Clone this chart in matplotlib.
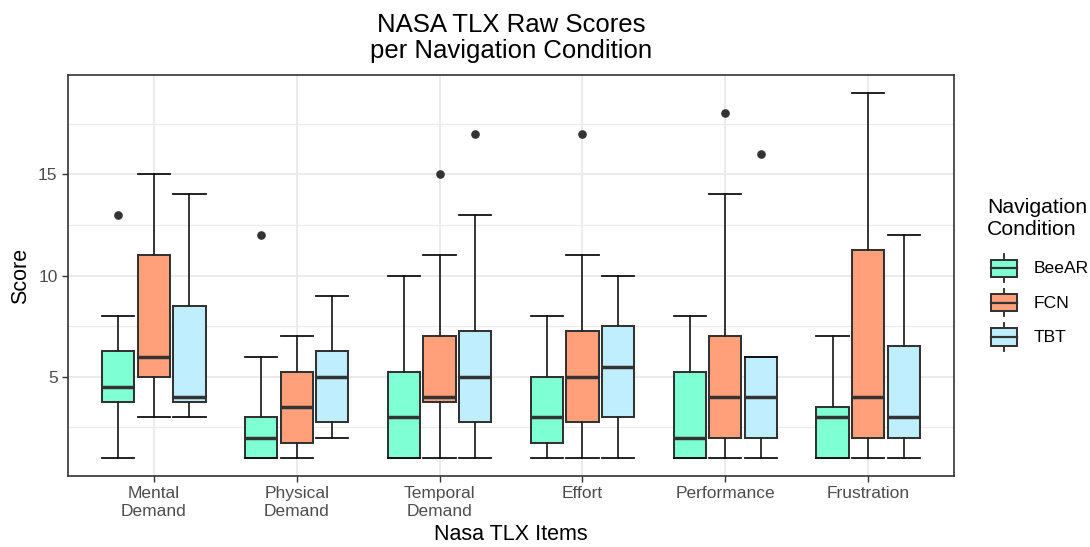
import matplotlib
matplotlib.use("Agg")
import matplotlib.pyplot as plt
from matplotlib.legend_handler import HandlerBase
from matplotlib.patches import Patch, Rectangle
from matplotlib.lines import Line2D

plt.rcParams["font.family"] = ["Liberation Sans", "DejaVu Sans"]

items = ["Mental\nDemand", "Physical\nDemand", "Temporal\nDemand",
         "Effort", "Performance", "Frustration"]
conditions = ["BeeAR", "FCN", "TBT"]
colors = ["#7FFFD4", "#FFA07A", "#BFEFFF"]

# five-number summaries per item: (whisker low, q1, median, q3, whisker high)
beear_stats = [(1, 3.75, 4.5, 6.25, 8), (1, 1, 2, 3, 6), (1, 1, 3, 5.25, 10),
               (1, 1.75, 3, 5, 8), (1, 1, 2, 5.25, 8), (1, 1, 3, 3.5, 7)]
fcn_stats = [(3, 5, 6, 11, 15), (1, 1.75, 3.5, 5.25, 7), (1, 3.75, 4, 7, 11),
             (1, 2.75, 5, 7.25, 11), (1, 2, 4, 7, 14), (1, 2, 4, 11.25, 19)]
tbt_stats = [(3, 3.75, 4, 8.5, 14), (2, 2.75, 5, 6.25, 9), (1, 2.75, 5, 7.25, 13),
             (1, 3, 5.5, 7.5, 10), (1, 2, 4, 6, 6), (1, 2, 3, 6.5, 12)]

beear_outliers = [[13], [12], [], [], [], []]
fcn_outliers = [[], [], [15], [17], [18], []]
tbt_outliers = [[], [], [17], [], [16], []]

all_stats = [beear_stats, fcn_stats, tbt_stats]
all_outliers = [beear_outliers, fcn_outliers, tbt_outliers]

edge = "#333333"
dodge = 0.25
box_w = 0.225

fig = plt.figure(figsize=(10.9, 5.47), dpi=100)
ax = fig.add_axes([68 / 1090, 71 / 547, 886 / 1090, 401 / 547])

for k, (stats, outl) in enumerate(zip(all_stats, all_outliers)):
    bxp_stats = []
    for s, o in zip(stats, outl):
        lo, q1, med, q3, hi = s
        bxp_stats.append(dict(whislo=lo, q1=q1, med=med, q3=q3, whishi=hi, fliers=o))
    pos = [i + 1 + (k - 1) * dodge for i in range(len(items))]
    ax.bxp(bxp_stats, positions=pos, widths=box_w, capwidths=box_w,
           patch_artist=True, manage_ticks=False,
           boxprops=dict(facecolor=colors[k], edgecolor=edge, linewidth=1.45),
           medianprops=dict(color=edge, linewidth=2.5, solid_capstyle="butt"),
           whiskerprops=dict(color="#262626", linewidth=1.3),
           capprops=dict(color="#111111", linewidth=1.3),
           flierprops=dict(marker="o", markerfacecolor=edge, markeredgecolor=edge,
                           markersize=5.2, linestyle="none"),
           zorder=3)

ax.set_xlim(0.4, 6.6)
ax.set_ylim(0.1, 19.9)
ax.set_xticks(range(1, len(items) + 1))
ax.set_xticklabels(items, fontsize=12.5, color="#4D4D4D", linespacing=1.18)
ax.set_yticks([5, 10, 15])
ax.set_yticks([2.5, 7.5, 12.5, 17.5], minor=True)
ax.tick_params(axis="y", which="minor", length=0)
ax.tick_params(axis="both", which="major", length=4, width=1, color=edge,
               labelsize=12.5, labelcolor="#4D4D4D", pad=3.5)
ax.grid(True, which="major", color="#EBEBEB", linewidth=1.4, zorder=0)
ax.grid(True, which="minor", axis="y", color="#EBEBEB", linewidth=0.8, zorder=0)
ax.set_axisbelow(True)
for sp in ax.spines.values():
    sp.set_color(edge)
    sp.set_linewidth(1.2)

ax.set_xlabel("Nasa TLX Items", fontsize=15.5, labelpad=4)
ax.set_ylabel("Score", fontsize=15.5, labelpad=5)
ax.set_title("NASA TLX Raw Scores\nper Navigation Condition", fontsize=18.5,
             linespacing=1.12, pad=12)


class BoxKey(HandlerBase):
    # small box-and-whisker glyph for each legend entry
    def create_artists(self, legend, orig_handle, xdescent, ydescent,
                       width, height, fontsize, trans):
        x0, y0 = -xdescent, -ydescent
        cx = x0 + width / 2
        whisk = Line2D([cx, cx], [y0 + 0.1 * height, y0 + 0.9 * height],
                       color="#262626", linewidth=1.3, transform=trans)
        box = Rectangle((x0, y0 + 0.25 * height), width, 0.5 * height,
                        facecolor=orig_handle.get_facecolor(), edgecolor=edge,
                        linewidth=1.45, transform=trans)
        med = Line2D([x0, x0 + width], [y0 + 0.5 * height] * 2, color=edge,
                     linewidth=1.6, transform=trans)
        return [whisk, box, med]


fig.text(987 / 1090, 1 - 198 / 547, "Navigation\nCondition", fontsize=15.3,
         ha="left", va="top", linespacing=1.22)

handles = [Patch(facecolor=c, label=n) for c, n in zip(colors, conditions)]
leg = fig.legend(handles=handles, labels=conditions,
                 handler_map={Patch: BoxKey()},
                 fontsize=12.6, frameon=False,
                 loc="upper left", bbox_to_anchor=(991 / 1090, 1 - 251 / 547),
                 handlelength=1.48, handleheight=2.65, handletextpad=0.95,
                 labelspacing=0.0, borderaxespad=0, borderpad=0)

fig.savefig("out.png", dpi=100)
